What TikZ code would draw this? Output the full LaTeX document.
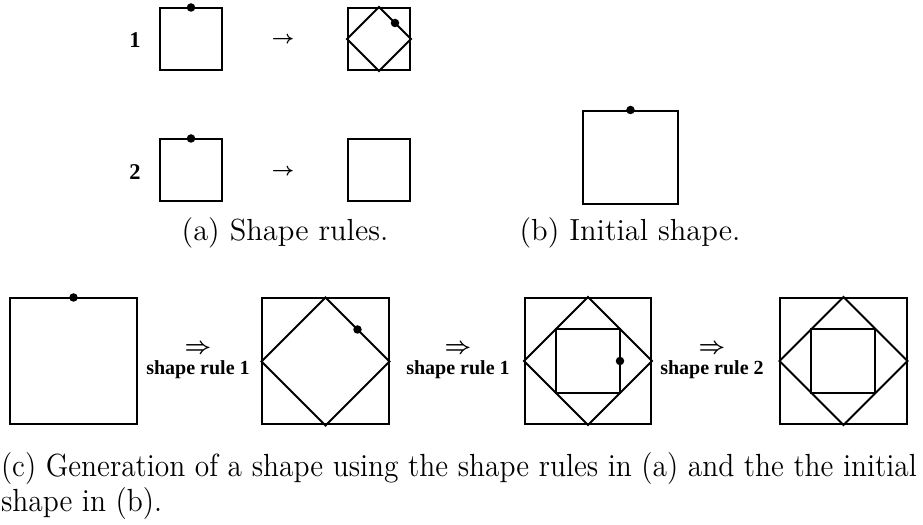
\documentclass[tikz,border=0pt]{standalone}
\usepackage{amsmath}
\usepackage{fontspec}
\usepackage{tikz}
\usetikzlibrary{calc}
\newfontfamily\scanfont{Liberation Serif}

\tikzset{
  frame/.style={draw, line width=0.8pt, inner sep=0pt},
  small/.style={frame, minimum size=24.8pt},
  mid/.style={frame, minimum width=38pt, minimum height=37.2pt},
  big/.style={frame, minimum size=50.4pt},
  marker/.style={circle, fill=black, inner sep=0pt, minimum size=3.4pt},
  rulelabel/.style={font=\scanfont\bfseries\fontsize{8}{8.5}\selectfont, align=center},
  rulenum/.style={font=\scanfont\bfseries\fontsize{9}{10}\selectfont},
  rulearrow/.style={font=\fontsize{7}{8}\selectfont},
  caption/.style={font=\fontsize{12.2}{14}\selectfont, inner sep=0pt}
}

\begin{document}
\begin{tikzpicture}[x=0.4pt, y=-0.4pt, line width=0.8pt]
  \useasboundingbox (0,0) rectangle (923,525);

  % (a) shape rules
  \node (num1) [rulenum] at (135,40) {1};
  \node (r1l) [small] at (191,39.5) {};
  \node (arr1) [rulearrow] at (283,40) {$\boldsymbol{\rightarrow}$};
  \node (r1r) [small] at (379,39) {};
  \draw (r1r.north) -- (r1r.east) -- (r1r.south) -- (r1r.west) -- cycle;
  \node [marker] at (r1l.north) {};
  \node [marker] at ($(r1r.north)!0.5!(r1r.east)$) {};

  \node (num2) [rulenum] at (135,172) {2};
  \node (r2l) [small] at (191,170.5) {};
  \node (arr2) [rulearrow] at (283,172) {$\boldsymbol{\rightarrow}$};
  \node (r2r) [small] at (379,170.5) {};
  \node [marker] at (r2l.north) {};

  \node (capa) [caption] at (285,233) {(a) Shape rules.};

  % (b) initial shape
  \node (init) [mid] at (630.5,157.5) {};
  \node [marker] at (init.north) {};
  \node (capb) [caption] at (630,233) {(b) Initial shape.};

  % (c) generation
  \node (s1) [big] at (73.5,361.5) {};
  \node [marker] at (s1.north) {};
  \node (step1) [rulelabel] at (198,362) {{\fontsize{9}{9}\selectfont$\boldsymbol{\Rightarrow}$}\\shape rule 1};

  \node (s2) [big] at (325.5,361.5) {};
  \draw (s2.north) -- (s2.east) -- (s2.south) -- (s2.west) -- cycle;
  \node [marker] at ($(s2.north)!0.5!(s2.east)$) {};
  \node (step2) [rulelabel] at (458,362) {{\fontsize{9}{9}\selectfont$\boldsymbol{\Rightarrow}$}\\shape rule 1};

  \node (s3) [big] at (588,361) {};
  \draw (s3.north) -- (s3.east) -- (s3.south) -- (s3.west) -- cycle;
  \draw ($(s3.north)!0.5!(s3.east)$) -- ($(s3.east)!0.5!(s3.south)$)
     -- ($(s3.south)!0.5!(s3.west)$) -- ($(s3.west)!0.5!(s3.north)$) -- cycle;
  \node [marker] at ($(s3.center)!0.5!(s3.east)$) {};
  \node (step3) [rulelabel] at (712,362) {{\fontsize{9}{9}\selectfont$\boldsymbol{\Rightarrow}$}\\shape rule 2};

  \node (s4) [big] at (843.5,361) {};
  \draw (s4.north) -- (s4.east) -- (s4.south) -- (s4.west) -- cycle;
  \draw ($(s4.north)!0.5!(s4.east)$) -- ($(s4.east)!0.5!(s4.south)$)
     -- ($(s4.south)!0.5!(s4.west)$) -- ($(s4.west)!0.5!(s4.north)$) -- cycle;

  \node (capc1) [caption, anchor=west] at (0,469) {\scalebox{0.965}[1.05]{(c) Generation of a shape using the shape rules in (a) and the the initial}};
  \node (capc2) [caption, anchor=west] at (0,504) {\scalebox{0.965}[1.05]{shape in (b).}};
\end{tikzpicture}
\end{document}
